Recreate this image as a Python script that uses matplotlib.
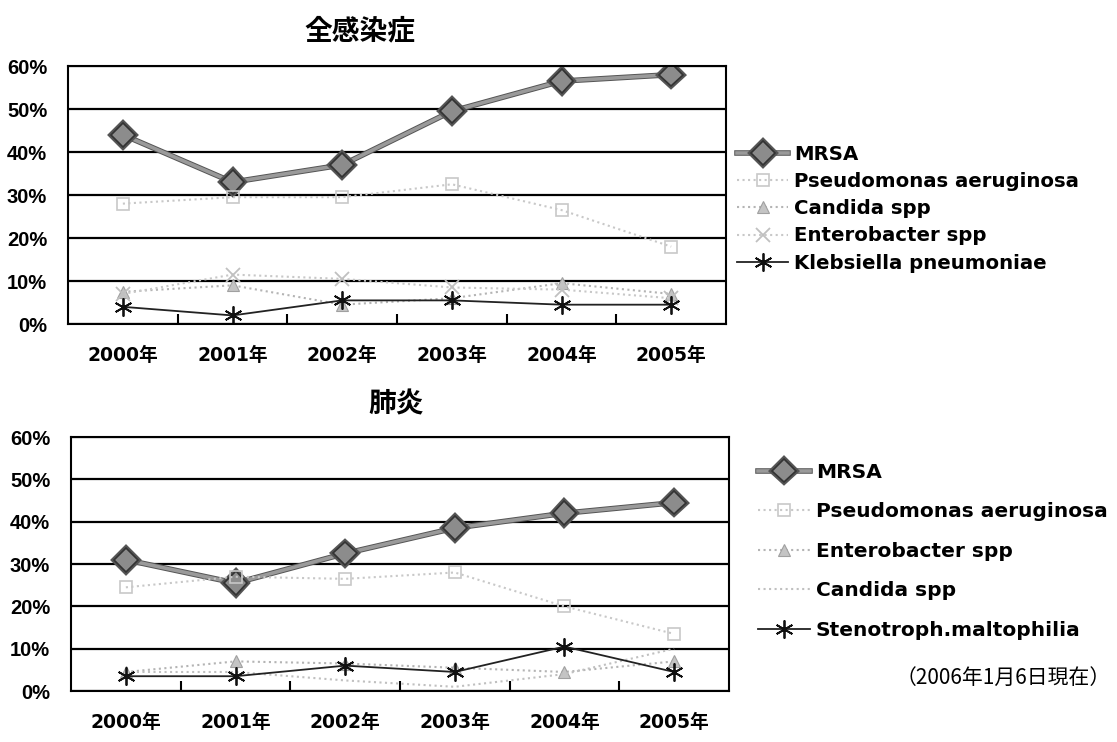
import matplotlib
matplotlib.use('Agg')
import matplotlib.pyplot as plt
import matplotlib.patheffects as pe
from matplotlib.ticker import FixedLocator, FuncFormatter

plt.rcParams['font.family'] = ['DejaVu Sans', 'Noto Sans CJK JP']

years = ['2000年', '2001年', '2002年', '2003年', '2004年', '2005年']

# 全感染症 (%)
all_labels = ['MRSA', 'Pseudomonas aeruginosa', 'Candida spp',
              'Enterobacter spp', 'Klebsiella pneumoniae']
all_mrsa = [44, 33, 37, 49.5, 56.5, 58]
all_pseudo = [28, 29.5, 29.5, 32.5, 26.5, 18]
all_candida = [7.5, 9, 4.5, 6, 9.5, 7]
all_entero = [7, 11.5, 10.5, 8.5, 8, 6]
all_klebs = [4, 2, 5.5, 5.5, 4.5, 4.5]

# 肺炎 (%)
pn_labels = ['MRSA', 'Pseudomonas aeruginosa', 'Enterobacter spp',
             'Candida spp', 'Stenotroph.maltophilia']
pn_mrsa = [31, 25.5, 32.5, 38.5, 42, 44.5]
pn_pseudo = [24.5, 27, 26.5, 28, 20, 13.5]
pn_entero = [4.5, 7, 6.5, 5.5, 4.5, 7]
pn_candida = [4.5, 4.5, 2.5, 1, 4, 10]
pn_steno = [3.5, 3.5, 6, 4.5, 10.5, 4.5]

x = list(range(len(years)))

mrsa_style = dict(color='#9a9a9a', lw=2.6, marker='D', ms=12, mfc='#8c8c8c',
                  mec='#333333', mew=1.2,
                  path_effects=[pe.Stroke(linewidth=4, foreground='#555555'), pe.Normal()])
pseudo_style = dict(color='#c8c8c8', lw=1.5, ls=':', marker='s', ms=9,
                    mfc='none', mec='#c8c8c8', mew=1.2)
tri_style = dict(color='#b4b4b4', lw=1.5, ls=':', marker='^', ms=9,
                 mfc='#c4c4c4', mec='#a0a0a0', mew=0.8)
cross_style = dict(color='#c8c8c8', lw=1.5, ls=':', marker='x', ms=10,
                   mec='#c0c0c0', mew=1.3)
plain_style = dict(color='#c0c0c0', lw=1.5, ls=':')
star_style = dict(color='#222222', lw=1.3, marker=(6, 2, 0), ms=13,
                  mec='#111111', mew=1.3)


def setup_axes(ax):
    ax.set_xlim(-0.5, len(years) - 0.5)
    ax.set_ylim(0, 60)
    ax.yaxis.set_major_locator(FixedLocator(range(0, 61, 10)))
    ax.yaxis.set_major_formatter(FuncFormatter(lambda v, p: f'{int(v)}%'))
    ax.yaxis.grid(True, color='black', lw=1.6)
    ax.set_axisbelow(True)
    ax.set_xticks(x)
    ax.set_xticklabels(years)
    ax.set_xticks([i + 0.5 for i in x[:-1]], minor=True)
    ax.tick_params(axis='x', which='major', length=0, pad=16)
    ax.tick_params(axis='x', which='minor', direction='in', length=7,
                   width=1.5, color='black')
    ax.tick_params(axis='y', length=0, pad=15)
    for lab in ax.get_xticklabels():
        lab.set_fontsize(13.5)
        lab.set_fontweight('bold')
    for lab in ax.get_yticklabels():
        lab.set_fontsize(14.5)
        lab.set_fontweight('bold')
        lab.set_family(['Liberation Sans', 'DejaVu Sans'])
    for side in ['left', 'bottom', 'right', 'top']:
        ax.spines[side].set_linewidth(1.5)
        ax.spines[side].set_color('black')


fig = plt.figure(figsize=(11.17, 7.42), dpi=100)

ax1 = fig.add_axes([0.0609, 0.5633, 0.5891, 0.3477])
setup_axes(ax1)
h1 = [
    ax1.plot(x, all_mrsa, **mrsa_style)[0],
    ax1.plot(x, all_pseudo, **pseudo_style)[0],
    ax1.plot(x, all_candida, **tri_style)[0],
    ax1.plot(x, all_entero, **cross_style)[0],
    ax1.plot(x, all_klebs, **star_style)[0],
]
fig.text(0.322, 0.958, '全感染症', ha='center', va='center', fontsize=20,
         fontweight='bold', family=['Noto Sans CJK JP'])
fig.legend(h1, all_labels, loc='upper left', bbox_to_anchor=(0.644, 0.829),
           frameon=False, handlelength=2.6, handletextpad=0.3,
           labelspacing=0.42, prop=dict(size=14.2, weight='bold'))

ax2 = fig.add_axes([0.0636, 0.0687, 0.5890, 0.3423])
setup_axes(ax2)
h2 = [
    ax2.plot(x, pn_mrsa, **mrsa_style)[0],
    ax2.plot(x, pn_pseudo, **pseudo_style)[0],
    ax2.plot(x, pn_entero, **tri_style)[0],
    ax2.plot(x, pn_candida, **plain_style)[0],
    ax2.plot(x, pn_steno, **star_style)[0],
]
fig.text(0.355, 0.455, '肺炎', ha='center', va='center', fontsize=20,
         fontweight='bold', family=['Noto Sans CJK JP'])
fig.legend(h2, pn_labels, loc='upper left', bbox_to_anchor=(0.662, 0.401),
           frameon=False, handlelength=2.6, handletextpad=0.3,
           labelspacing=1.02, prop=dict(size=14.5, weight='bold'))

fig.text(0.994, 0.086, '（2006年1月6日現在）', ha='right', va='center',
         fontsize=15, family=['Noto Sans CJK JP'])

fig.savefig('out.png', dpi=100)
